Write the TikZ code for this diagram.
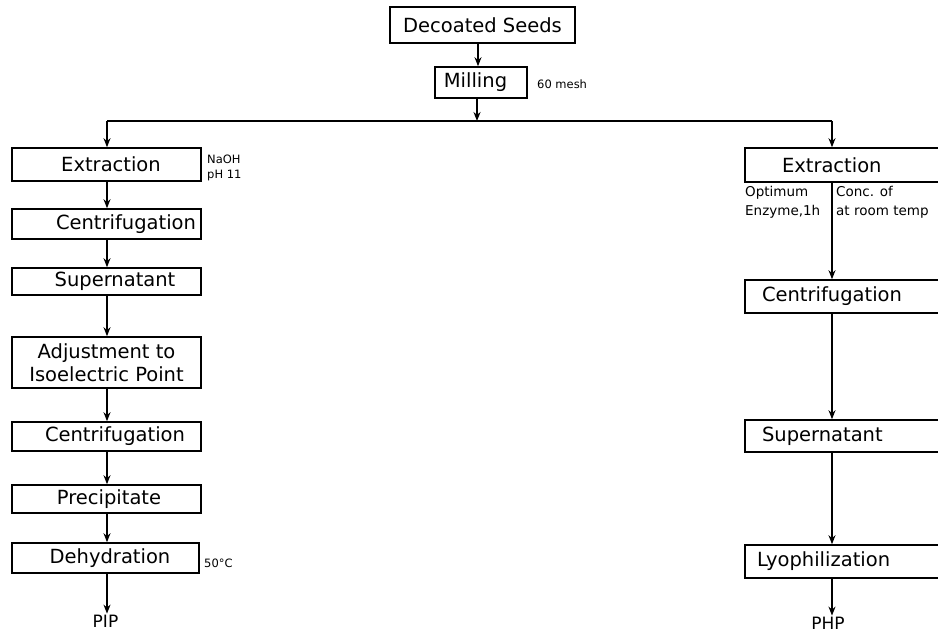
\documentclass[tikz,border=0pt]{standalone}
\usepackage{fontspec}
\setmainfont{DejaVu Sans}
\usetikzlibrary{arrows.meta}
\begin{document}
\begin{tikzpicture}[x=1pt,y=-1pt,
  box/.style={draw, line width=1.6pt, inner sep=0pt, font=\fontsize{19.5}{23}\selectfont},
  rbox/.style={box, inner xsep=12pt, text width=201pt, align=left, minimum height=33},
  lbox/.style={box, minimum width=189},
  conn/.style={line width=1.6pt},
  arr/.style={conn, -{Stealth[length=9pt,width=7pt]}},
  note/.style={font=\fontsize{11.5}{15}\selectfont, inner sep=0pt},
  note2/.style={font=\fontsize{13.5}{19}\selectfont, inner sep=0pt, align=left},
  endtxt/.style={font=\fontsize{17}{20}\selectfont, inner sep=1pt}]
\useasboundingbox (0,0) rectangle (938,635);
\clip (0,0) rectangle (938,635);

% top
\node[box, minimum width=185, minimum height=36] (dec) at (482.5,25) {Decoated Seeds};
\node[box, minimum width=92, minimum height=31] (mil) at (481,82.5) {\hspace*{-11pt}Milling};
\node[note, anchor=base west] (mesh) at (537,88) {60 mesh};
\coordinate (tx) at (478,0);
\coordinate (split) at (477,121);
\coordinate (lx) at (107,121);
\coordinate (rx) at (832,121);

% left column
\node[lbox, minimum height=33] (ext1) at (106.5,164.5) {\hspace*{9pt}Extraction};
\node[note, anchor=base west] (naoh) at (207,163) {NaOH};
\node[note, anchor=base west] (ph) at (207,178) {pH 11};
\node[lbox, minimum height=30] (cen1) at (106.5,224) {\hspace*{39pt}Centrifugation};
\node[lbox, minimum height=27] (sup1) at (106.5,281.5) {\hspace*{17pt}Supernatant};
\node[lbox, minimum height=51, align=center] (adj) at (106.5,362.5) {Adjustment to\\Isoelectric Point};
\node[lbox, minimum height=29] (cen2) at (106.5,436.5) {\hspace*{17pt}Centrifugation};
\node[lbox, minimum height=28] (pre) at (106.5,499) {\hspace*{5pt}Precipitate};
\node[box, minimum width=187, minimum height=30] (deh) at (105.5,558) {\hspace*{9pt}Dehydration};
\node[note, anchor=base west] (fifty) at (204,567) {50°C};
\node[endtxt] (pip) at (105.5,621) {PIP};

% right column
\node[rbox, minimum height=34] (ext2) at (857.5,165) {\hspace*{25pt}Extraction};
\node[note2, anchor=north west] (opt) at (745,186) {Optimum\\Enzyme,1h};
\node[note2, anchor=north west] (conc) at (836,186) {Conc. of\\at room temp};
\node[rbox] (cen3) at (857.5,296.5) {\hspace*{5pt}Centrifugation};
\node[rbox, minimum height=32] (sup2) at (857.5,436) {\hspace*{5pt}Supernatant};
\node[rbox] (lyo) at (857.5,561.5) {Lyophilization};
\node[endtxt] (php) at (828,623) {PHP};

% connectors
\draw[arr] (dec.south -| tx) -- (mil.north -| tx);
\draw[arr] (mil.south -| split) -- (split);
\draw[conn] (lx) -- (rx);
\draw[arr] (lx) -- (ext1.north -| lx);
\draw[arr] (rx) -- (ext2.north -| rx);

\draw[arr] (ext1.south -| lx) -- (cen1.north -| lx);
\draw[arr] (cen1.south -| lx) -- (sup1.north -| lx);
\draw[arr] (sup1.south -| lx) -- (adj.north -| lx);
\draw[arr] (adj.south -| lx) -- (cen2.north -| lx);
\draw[arr] (cen2.south -| lx) -- (pre.north -| lx);
\draw[arr] (pre.south -| lx) -- (deh.north -| lx);
\draw[arr] (deh.south -| lx) -- (pip.north -| lx);

\draw[arr] (ext2.south -| rx) -- (cen3.north -| rx);
\draw[arr] (cen3.south -| rx) -- (sup2.north -| rx);
\draw[arr] (sup2.south -| rx) -- (lyo.north -| rx);
\draw[arr] (lyo.south -| rx) -- (php.north -| rx);
\end{tikzpicture}
\end{document}
